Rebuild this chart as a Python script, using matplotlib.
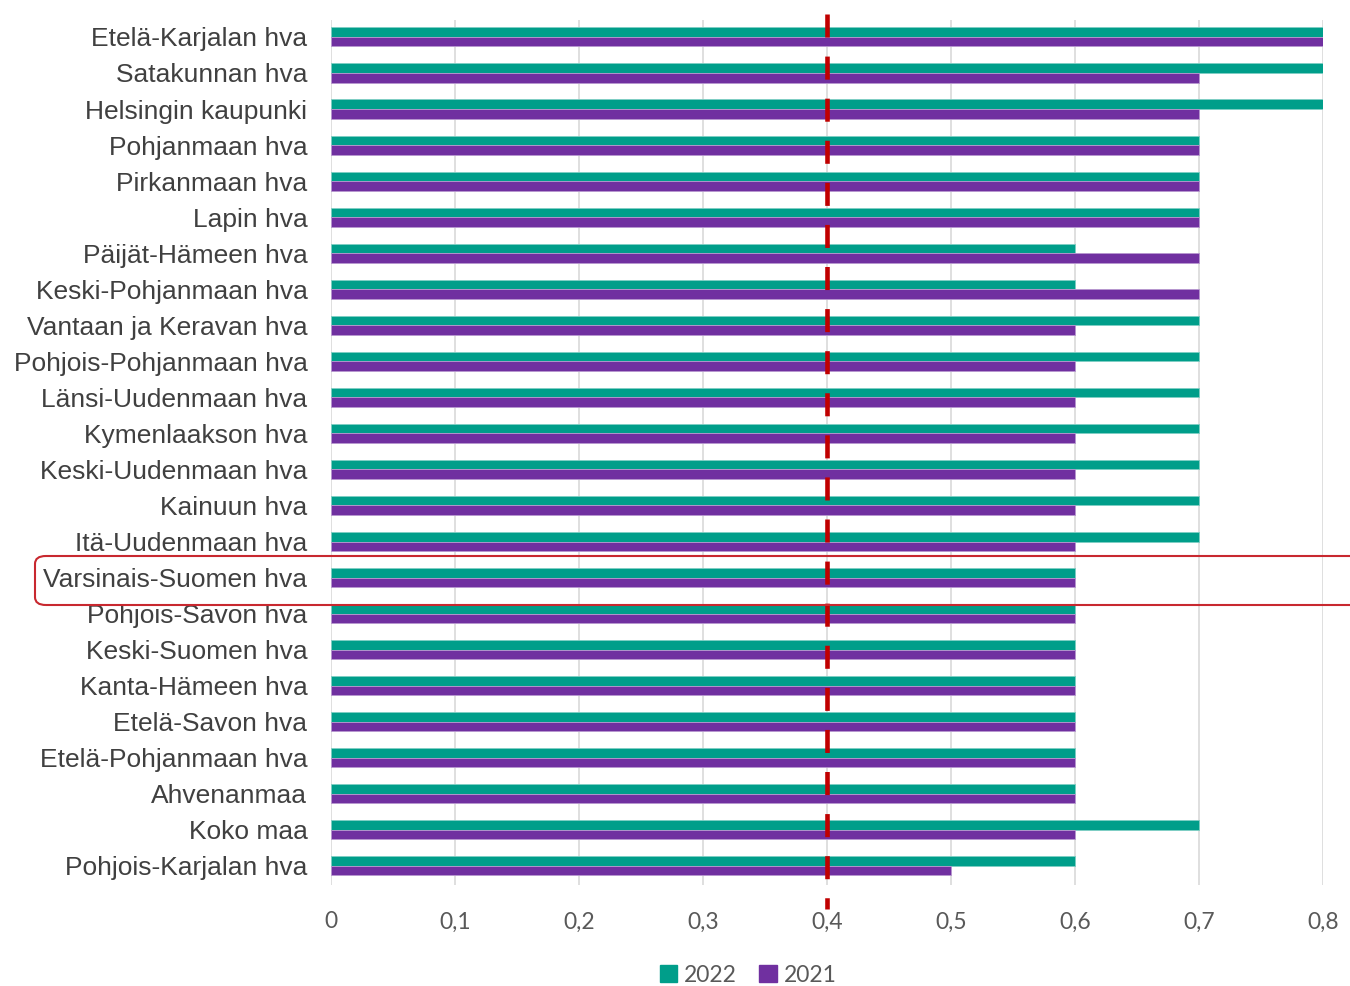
import numpy as np
import matplotlib
matplotlib.use("Agg")
import matplotlib.pyplot as plt
from matplotlib.patches import FancyBboxPatch, Patch

plt.rcParams['lines.scale_dashes'] = False

# data
alueet = ["Etelä-Karjalan hva", "Satakunnan hva", "Helsingin kaupunki",
          "Pohjanmaan hva", "Pirkanmaan hva", "Lapin hva",
          "Päijät-Hämeen hva", "Keski-Pohjanmaan hva", "Vantaan ja Keravan hva",
          "Pohjois-Pohjanmaan hva", "Länsi-Uudenmaan hva", "Kymenlaakson hva",
          "Keski-Uudenmaan hva", "Kainuun hva", "Itä-Uudenmaan hva",
          "Varsinais-Suomen hva", "Pohjois-Savon hva", "Keski-Suomen hva",
          "Kanta-Hämeen hva", "Etelä-Savon hva", "Etelä-Pohjanmaan hva",
          "Ahvenanmaa", "Koko maa", "Pohjois-Karjalan hva"]
v2022 = [0.8, 0.8, 0.8, 0.7, 0.7, 0.7, 0.6, 0.6, 0.7, 0.7, 0.7, 0.7,
         0.7, 0.7, 0.7, 0.6, 0.6, 0.6, 0.6, 0.6, 0.6, 0.6, 0.7, 0.6]
v2021 = [0.8, 0.7, 0.7, 0.7, 0.7, 0.7, 0.7, 0.7, 0.6, 0.6, 0.6, 0.6,
         0.6, 0.6, 0.6, 0.6, 0.6, 0.6, 0.6, 0.6, 0.6, 0.6, 0.6, 0.5]
raja = 0.4
xticks = [0, 0.1, 0.2, 0.3, 0.4, 0.5, 0.6, 0.7, 0.8]

teal = '#009e8a'
purple = '#7030a0'
red = '#c00000'

fig = plt.figure(figsize=(13.5, 9.86), dpi=100)
ax = fig.add_axes([331/1350, 1-885/986, (1323-331)/1350, (885-20)/986])

y = np.arange(len(alueet))
h = 0.265
ax.barh(y - h/2, v2022, height=h, color=teal, edgecolor='#80cfc4', linewidth=0.6, zorder=2)
ax.barh(y + h/2, v2021, height=h, color=purple, edgecolor='#b898d0', linewidth=0.6, zorder=2)

ax.set_ylim(len(alueet) - 0.47, -0.47)
ax.set_xlim(0, 0.8)
ax.set_yticks(y)
ax.set_yticklabels(alueet, fontsize=19, color='#404040', family='Liberation Sans')
ax.set_xticks(xticks)
ax.set_xticklabels([('%g' % t).replace('.', ',') for t in xticks],
                   fontsize=16.5, color='#595959', family='Lato')
ax.tick_params(axis='y', length=0, pad=17)
ax.tick_params(axis='x', length=0, pad=19)
ax.grid(axis='x', color='#d9d9d9', linewidth=1.2, zorder=0)
ax.set_axisbelow(True)
for s in ax.spines.values():
    s.set_visible(False)

# raja-arvo, katkoviiva
ax.plot([raja, raja], [-0.65, len(alueet) + 0.2], color=red, linewidth=3.3,
        dashes=(16.6, 13.7), solid_capstyle='butt', dash_capstyle='butt',
        clip_on=False, zorder=4)

# korostettu rivi
fig.patches.append(FancyBboxPatch((35/1350, 1-605/986), 1.0, 49/986,
                                  boxstyle='round,pad=0,rounding_size=0.008',
                                  transform=fig.transFigure, fill=False,
                                  edgecolor='#c8282f', linewidth=1.5, zorder=5))

handles = [Patch(color=teal, label='2022'), Patch(color=purple, label='2021')]
fig.legend(handles=handles, loc='center', bbox_to_anchor=(748/1350, 1-975/986),
           ncol=2, frameon=False, handlelength=0.75, handleheight=0.75,
           handletextpad=0.3, columnspacing=1.0,
           prop={'family': 'Lato', 'size': 16.5}, labelcolor='#595959')

fig.savefig('out.png', dpi=100)
